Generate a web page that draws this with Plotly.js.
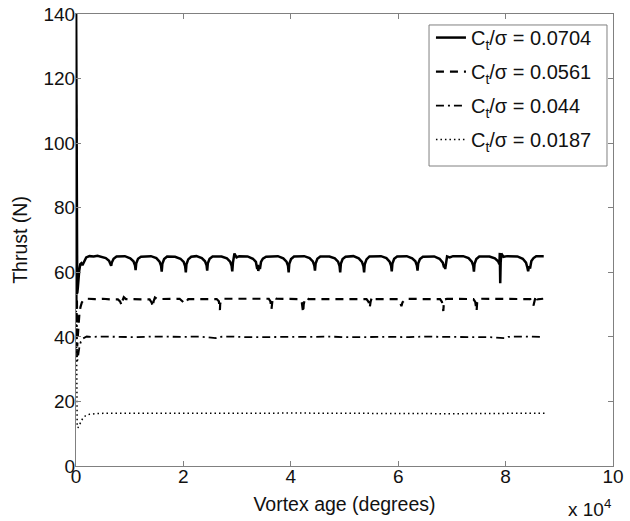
<!DOCTYPE html>
<html>
<head>
<meta charset="utf-8">
<script src="https://cdn.plot.ly/plotly-3.0.1.min.js"></script>
<style>html,body{margin:0;padding:0;background:#fff;}#chart{width:630px;height:521px;}</style>
</head>
<body>
<div id="chart"></div>
<script>
// Series names
var seriesNames = ["C<sub>t</sub>/σ = 0.0704", "C<sub>t</sub>/σ = 0.0561", "C<sub>t</sub>/σ = 0.044", "C<sub>t</sub>/σ = 0.0187"];

// Axis ticks
var xTickVals = [0, 20000, 40000, 60000, 80000, 100000];
var xTickText = ["0", "2", "4", "6", "8", "10"];
var yTickVals = [0, 20, 40, 60, 80, 100, 120, 140];

// Ct/sigma = 0.0704 (solid)
var solidX = [0,40,90,150,230,330,450,600,800,1000,1200,1500,1900,2500,3300,4000,
  4550,5550,6150,6430,6550,6670,7000,7550,
  9100,10100,10700,10980,11100,11220,11550,12100,
  13960,14960,15560,15840,15960,16080,16410,16960,
  18450,19450,20050,20330,20450,20570,20900,21450,
  22430,23430,24030,24310,24430,24550,24880,25430,
  27100,28100,28700,28980,29100,29220,29500,29900,30400,
  31950,32950,33500,33750,33850,33950,34100,34250,34450,34800,35400,
  37600,38600,39200,39480,39600,39720,40050,40600,
  42500,43500,44100,44380,44500,44620,44950,45500,
  47200,48200,48800,49080,49200,49320,49650,50200,
  51650,52650,53250,53530,53650,53770,54100,54650,
  56800,57800,58400,58680,58800,58920,59250,59800,
  61600,62600,63200,63480,63600,63720,64050,64600,
  66700,67700,68300,68550,68650,68750,68900,69100,69600,70200,
  72100,73100,73700,73980,74100,74220,74550,75100,
  77000,78000,78600,78850,78920,79000,79080,79200,79600,80300,
  82200,83200,83800,84050,84200,84350,84550,84800,85200,85700,86500,87100];
var solidY = [152,110,72,56,53.5,55,58.5,60.5,62.5,62.8,62.2,63.4,64.6,65.0,64.9,65.1,
  64.9,64.4,63.6,62.8,62.0,63.0,64.2,64.9,
  65.0,64.3,63.4,62.2,60.7,62.8,64.2,64.8,
  65.0,64.4,63.3,62.0,60.2,62.6,64.1,64.9,
  64.8,64.2,63.2,61.8,60.0,62.5,64.0,64.8,
  65.0,64.4,63.4,62.2,60.5,62.8,64.2,64.9,
  64.9,64.3,63.3,62.0,60.3,62.9,65.8,64.6,65.0,
  64.9,64.2,63.2,61.0,62.3,60.4,62.0,61.0,63.2,64.2,64.8,
  65.0,64.3,63.3,62.0,60.0,62.6,64.1,64.9,
  65.0,64.4,63.4,62.1,60.5,62.7,64.2,64.9,
  64.9,64.3,63.3,61.9,60.0,62.6,64.1,64.8,
  65.0,64.3,63.2,61.8,60.0,62.5,64.0,64.9,
  65.0,64.4,63.3,62.0,60.3,62.7,64.2,64.9,
  65.0,64.3,63.4,62.1,60.5,62.7,64.1,64.8,
  64.9,64.2,63.0,61.5,62.3,61.0,62.5,64.9,64.6,65.0,
  65.0,64.4,63.3,62.0,60.2,62.6,64.1,64.9,
  64.9,64.3,63.4,62.5,66.0,56.6,63.0,65.8,64.8,65.0,
  64.9,64.2,63.0,61.5,60.3,61.8,61.2,63.5,64.4,65.0,64.9,65.0];

// Ct/sigma = 0.0561 (dashed)
var dashedX = [0,60,130,220,330,480,650,850,1100,1500,2200,3500,5000,6500,
  7800,8200,8500,8650,8900,9300,11500,13000,
  13700,14100,14300,14450,14700,15100,17500,
  19300,19700,20300,20500,20900,23500,
  26200,26600,26800,26850,27000,27400,30000,33000,35500,
  35900,36200,36400,36550,36900,37300,
  41700,42050,42300,42400,42600,42900,43300,47000,51000,
  54100,54500,54700,54850,55100,55500,
  60000,60300,60600,60800,61100,61500,64500,
  67800,68150,68400,68500,68700,69100,
  74000,74350,74600,74700,74950,75400,79000,82000,
  84600,84950,85200,85400,85650,85900,86500,87000];
var dashedY = [112,60,42,37,40,44.5,47.5,49.3,50.7,51.5,51.8,51.7,51.8,51.6,
  51.6,51.0,49.8,51.2,52.3,51.7,51.7,51.8,
  51.6,50.6,49.3,51.0,52.2,51.7,51.8,
  51.8,51.2,50.3,50.8,51.7,51.7,
  51.7,51.0,48.3,50.2,51.2,51.8,51.8,51.7,51.7,
  51.8,51.0,48.5,50.8,52.3,51.8,
  51.7,50.6,47.5,50.0,51.5,52.2,51.7,51.7,51.8,
  51.7,50.8,49.0,50.8,52.3,51.7,
  51.7,50.8,49.5,50.7,51.3,51.8,51.7,
  51.7,50.8,48.0,50.5,51.6,51.8,
  51.7,50.8,48.0,50.6,51.7,51.8,51.7,51.8,
  51.7,50.9,49.7,51.2,52.8,51.6,51.6,51.8];

// Ct/sigma = 0.044 (dash-dot)
var dashdotX = [0,60,120,200,300,450,650,900,1300,2000,3000,5000,8000,11000,14000,17000,20000,23000,
  26000,26400,29000,32000,35000,38000,41000,44000,47000,50000,53000,56000,59000,62000,65000,
  68000,71000,74000,77000,80000,80500,83000,86400];
var dashdotY = [92,50,35,32.5,33,35,37,38.5,39.5,40.1,40.0,40.1,40.0,39.9,40.1,40.0,40.0,40.1,
  39.6,40.0,40.1,39.9,40.0,40.1,40.0,40.0,40.1,39.9,40.0,40.1,40.0,39.9,40.1,
  40.0,40.0,40.1,39.9,39.6,40.0,40.1,40.0];

// Ct/sigma = 0.0187 (dotted)
var dottedX = [0,60,130,220,350,500,700,950,1300,1800,2500,3500,5000,10000,20000,30000,40000,50000,60000,70000,80000,87300];
var dottedY = [62,35,18,12.5,11.8,12.3,13.2,14.1,14.9,15.6,16.0,16.2,16.3,16.3,16.2,16.3,16.4,16.3,16.3,16.2,16.3,16.3];

var fontFamily = "Liberation Sans, Arial, sans-serif";
var axisGray = "#808080";

var traces = [
  {x: solidX, y: solidY, name: seriesNames[0], legendgroup: "a", mode: "lines",
   line: {color: "#000", width: 2.5}},
  {x: dashedX, y: dashedY, name: seriesNames[1], legendgroup: "b", mode: "lines",
   line: {color: "#000", width: 2.2, dash: "8px,6px"}},
  {x: dashdotX, y: dashdotY, name: seriesNames[2], legendgroup: "c", mode: "lines",
   line: {color: "#000", width: 1.8, dash: "8px,4px,2px,4px"}},
  {x: dottedX, y: dottedY, name: seriesNames[3], legendgroup: "d", mode: "lines",
   line: {color: "#000", width: 1.5, dash: "1.5px,3px"}}
];

var layout = {
  width: 630, height: 521,
  margin: {l: 76, r: 17, t: 14, b: 55},
  paper_bgcolor: "#fff", plot_bgcolor: "#fff",
  font: {family: fontFamily, color: "#111", size: 19},
  showlegend: true,
  xaxis: {
    range: [0, 100000], tickvals: xTickVals, ticktext: xTickText,
    ticks: "inside", ticklen: 5, tickcolor: axisGray, tickwidth: 1,
    ticklabelstandoff: -7,
    showline: true, linecolor: axisGray, linewidth: 1, mirror: "ticks",
    showgrid: false, zeroline: false, fixedrange: true,
    tickfont: {family: fontFamily, size: 19, color: "#111"},
    title: {text: "Vortex age (degrees)", font: {family: fontFamily, size: 19.5, color: "#111"}, standoff: 11}
  },
  yaxis: {
    range: [0, 140], tickvals: yTickVals,
    ticks: "inside", ticklen: 5, tickcolor: axisGray, tickwidth: 1,
    ticklabelstandoff: -4,
    showline: true, linecolor: axisGray, linewidth: 1, mirror: "ticks",
    showgrid: false, zeroline: false, fixedrange: true,
    tickfont: {family: fontFamily, size: 19, color: "#111"},
    title: {text: "Thrust (N)", font: {family: fontFamily, size: 19.5, color: "#111"}, standoff: 10}
  },
  legend: {
    x: 0.661, y: 0.991, xanchor: "left", yanchor: "top",
    bgcolor: "rgba(255,255,255,0)", borderwidth: 0,
    font: {family: fontFamily, size: 20, color: "#111"},
    traceorder: "grouped", tracegroupgap: 5
  },
  shapes: [{
    type: "rect", xref: "paper", yref: "paper", layer: "above",
    x0: 0.6574, x1: 0.9888, y0: 0.6637, y1: 0.9757,
    line: {color: axisGray, width: 1}, fillcolor: "#fff"
  }],
  annotations: [{
    text: "x 10<sup>4</sup>", xref: "paper", yref: "paper", x: 1, y: -0.093,
    xanchor: "right", yanchor: "middle", showarrow: false,
    font: {family: fontFamily, size: 19, color: "#111"}
  }]
};

Plotly.newPlot("chart", traces, layout, {displayModeBar: false, staticPlot: true});
</script>
</body>
</html>
